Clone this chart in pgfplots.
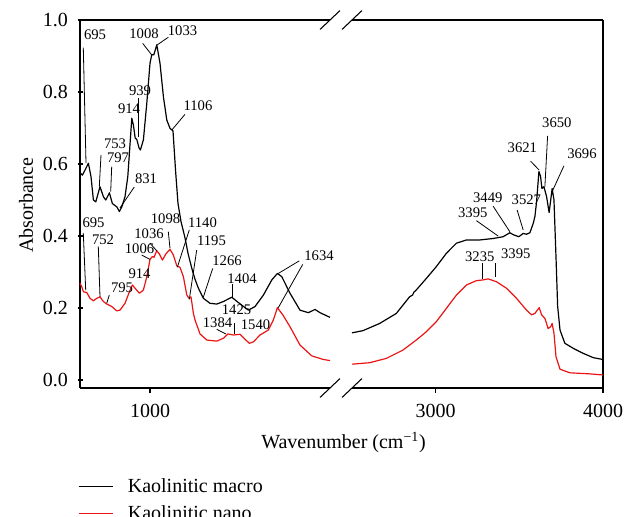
\documentclass[border=0pt]{standalone}
\usepackage{pgfplots}
\usepackage{pgfplotstable}
\pgfplotsset{compat=1.18}
\usepackage{fontspec}
\setmainfont{Liberation Serif}

% Absorbance spectra, low-wavenumber window (650--1900 cm^-1)
\pgfplotstableread{
w a
650 0.576
662 0.569
675 0.583
692 0.602
705 0.565
717 0.500
729 0.495
750 0.537
767 0.509
779 0.500
797 0.520
812 0.490
834 0.481
847 0.468
859 0.481
875 0.509
889 0.565
897 0.630
909 0.727
917 0.708
926 0.672
934 0.668
945 0.645
952 0.639
967 0.667
984 0.769
1000 0.880
1009 0.904
1019 0.903
1034 0.931
1050 0.880
1067 0.787
1084 0.722
1100 0.699
1115 0.692
1128 0.580
1140 0.490
1155 0.440
1175 0.395
1190 0.352
1209 0.310
1225 0.280
1242 0.255
1267 0.227
1300 0.213
1334 0.211
1367 0.218
1409 0.230
1442 0.215
1492 0.194
1525 0.204
1567 0.236
1609 0.278
1637 0.296
1659 0.287
1700 0.241
1750 0.194
1792 0.187
1825 0.196
1850 0.187
1900 0.174
}\macroLow

\pgfplotstableread{
w a
650 0.269
659 0.259
667 0.245
684 0.243
700 0.227
717 0.220
734 0.227
750 0.231
767 0.218
784 0.211
809 0.204
834 0.192
850 0.194
875 0.213
897 0.245
912 0.264
925 0.255
947 0.241
967 0.250
984 0.287
1000 0.335
1012 0.343
1020 0.341
1034 0.359
1047 0.350
1062 0.333
1079 0.350
1100 0.363
1117 0.347
1134 0.317
1150 0.313
1167 0.287
1184 0.236
1195 0.227
1205 0.231
1217 0.185
1225 0.167
1250 0.128
1284 0.111
1334 0.108
1367 0.116
1389 0.128
1417 0.125
1450 0.127
1475 0.113
1497 0.102
1517 0.106
1550 0.125
1592 0.139
1617 0.167
1637 0.201
1664 0.181
1700 0.148
1750 0.097
1809 0.067
1867 0.057
1900 0.054
}\nanoLow

% High-wavenumber window (2500--4000 cm^-1)
\pgfplotstableread{
w a
2500 0.131
2565 0.137
2665 0.157
2765 0.185
2844 0.231
2862 0.236
2870 0.244
2884 0.250
2944 0.282
3004 0.315
3064 0.352
3124 0.380
3184 0.389
3263 0.389
3343 0.393
3403 0.398
3443 0.409
3467 0.403
3497 0.398
3523 0.407
3543 0.405
3563 0.409
3583 0.435
3593 0.454
3603 0.495
3617 0.579
3627 0.565
3635 0.532
3647 0.537
3663 0.509
3678 0.465
3690 0.509
3696 0.532
3707 0.500
3719 0.343
3729 0.204
3743 0.139
3772 0.102
3822 0.088
3882 0.074
3942 0.062
4000 0.057
}\macroHigh

\pgfplotstableread{
w a
2500 0.044
2605 0.048
2705 0.060
2804 0.083
2884 0.111
2944 0.134
3004 0.162
3064 0.199
3124 0.236
3184 0.264
3244 0.276
3283 0.278
3313 0.281
3363 0.273
3423 0.255
3483 0.227
3543 0.194
3573 0.181
3593 0.185
3619 0.201
3633 0.181
3653 0.171
3672 0.143
3687 0.148
3696 0.157
3707 0.130
3719 0.065
3743 0.030
3802 0.020
3922 0.017
4000 0.014
}\nanoHigh

\newcommand\annfont{\fontsize{11}{13}\selectfont}
\newcommand\bigfont{\fontsize{15}{18}\selectfont}
% peak label and leader line, in axis units
\newcommand\lab[3]{\node[font=\annfont, inner sep=0pt] at (axis cs:#1,#2) {#3};}
\newcommand\ldr[4]{\draw[line width=0.6pt] (axis cs:#1,#2) -- (axis cs:#3,#4);}

\definecolor{nanored}{RGB}{235,20,20}

\pgfplotsset{
  brk/.style={
    scale only axis, height=276pt,
    ymin=-0.0222, ymax=1,
    tick style={line width=0.8pt, black},
    tick align=outside, major tick length=3.75pt,
    minor tick num=0,
    clip=false,
    ticklabel style={font=\bigfont},
    label style={font=\bigfont},
    /pgf/number format/assume math mode=true,
    scaled x ticks=false,
    xticklabel style={/pgf/number format/1000 sep={}, yshift=-5pt},
    xtick pos=left,
  },
  spec/.style={line width=0.9pt, line join=round},
}

\begin{document}
\begin{tikzpicture}
\path[use as bounding box] (0,0) rectangle (468pt,387.75pt);

\begin{axis}[brk,
  at={(60pt,96.75pt)}, anchor=south west, width=187.5pt,
  xmin=650, xmax=1900,
  axis y line=left,
  xtick={1000},
  ytick={0,0.2,0.4,0.6,0.8,1.0},
  yticklabel style={/pgf/number format/.cd, fixed, fixed zerofill, precision=1, /tikz/.cd, xshift=-3.75pt},
  xlabel={Wavenumber (cm\textsuperscript{−1})},
  xlabel style={at={(axis description cs:1.054,-0.147)}, anchor=center},
  ylabel={Absorbance},
  ylabel style={at={(axis description cs:-0.216,0.497)}, anchor=center, rotate=0},
  legend style={at={(axis description cs:-0.0093,-0.242)}, anchor=north west,
    draw=none, fill=none, inner sep=0pt, font=\bigfont, row sep=6pt,
    nodes={inner sep=1pt},
    /tikz/every odd column/.append style={column sep=10pt}},
  legend cell align=left,
  legend image code/.code={\draw[#1] (0pt,0pt) -- (25.5pt,0pt);},
  axis line style={-, line width=0.8pt},
]
\addplot[spec, black] table[x=w, y=a] {\macroLow};
\addlegendentry{Kaolinitic macro}
\addplot[spec, nanored] table[x=w, y=a] {\nanoLow};
\addlegendentry{Kaolinitic nano}

% macro sample bands
\lab{725}{0.958}{695}     \ldr{666.5}{0.923}{680}{0.603}
\lab{825}{0.656}{753}     \ldr{755}{0.625}{746.5}{0.537}
\lab{840}{0.617}{797}     \ldr{808.5}{0.593}{803.5}{0.523}
\lab{980}{0.558}{831}     \ldr{921.5}{0.536}{850}{0.478}
\lab{895}{0.753}{914}
\lab{950}{0.803}{939}     \ldr{941.5}{0.783}{941.5}{0.675}
\lab{970}{0.961}{1008}    \ldr{963.5}{0.935}{1008.5}{0.903}
\lab{1162.5}{0.971}{1033} \ldr{1091.5}{0.952}{1036.5}{0.931}
\lab{1240}{0.7625}{1106}  \ldr{1175}{0.738}{1108.5}{0.694}
% nano sample bands
\lab{717.5}{0.437}{695}   \ldr{666.5}{0.408}{678.5}{0.250}
\lab{765}{0.391}{752}     \ldr{741.5}{0.371}{750}{0.231}
\lab{860}{0.257}{795}     \ldr{796.5}{0.236}{783.5}{0.213}
\lab{947.5}{0.294}{914}
\lab{947.5}{0.365}{1006}  \ldr{958.5}{0.347}{1000}{0.335}
\lab{995}{0.407}{1036}    \ldr{1000}{0.380}{1033.5}{0.359}
\lab{1077.5}{0.447}{1098} \ldr{1091.5}{0.412}{1100}{0.366}
\lab{1262.5}{0.436}{1140} \ldr{1196.5}{0.417}{1136.5}{0.313}
\lab{1307.5}{0.386}{1195} \ldr{1233.5}{0.361}{1196.5}{0.224}
\lab{1385}{0.331}{1266}   \ldr{1313.5}{0.310}{1266.5}{0.230}
\lab{1460}{0.282}{1404}   \ldr{1413.5}{0.266}{1413.5}{0.231}
\lab{1432.5}{0.196}{1425} \ldr{1420}{0.1575}{1420}{0.128}
\lab{1337.5}{0.158}{1384} \ldr{1333.5}{0.141}{1378.5}{0.128}
\lab{1527.5}{0.153}{1540}
\lab{1845}{0.344}{1634}   \ldr{1746.5}{0.331}{1641.5}{0.296}
                          \ldr{1763.5}{0.321}{1641.5}{0.201}
\end{axis}

\begin{axis}[brk,
  at={(264pt,96.75pt)}, anchor=south west, width=188.25pt,
  xmin=2500, xmax=4000,
  axis y line=right,
  xtick={3000,4000},
  ytick=\empty,
  axis line style={-, line width=0.8pt},
]
\addplot[spec, black] table[x=w, y=a] {\macroHigh};
\addplot[spec, nanored] table[x=w, y=a] {\nanoHigh};

\lab{3221.6}{0.465}{3395} \ldr{3243.7}{0.4425}{3373}{0.400}
\lab{3311.4}{0.507}{3449} \ldr{3343.1}{0.483}{3443.1}{0.412}
\lab{3541.9}{0.501}{3527} \ldr{3486.8}{0.472}{3522.8}{0.417}
\lab{3518}{0.646}{3621}   \ldr{3567}{0.608}{3618.6}{0.583}
\lab{3724.5}{0.715}{3650} \ldr{3668.9}{0.678}{3652.7}{0.537}
\lab{3874.2}{0.629}{3696} \ldr{3766.5}{0.595}{3698.8}{0.526}
\lab{3263.5}{0.343}{3235} \ldr{3277.2}{0.324}{3277.2}{0.281}
\lab{3479}{0.350}{3395}   \ldr{3359.3}{0.324}{3359.3}{0.287}
\end{axis}

% axis-break marks
\foreach \cx in {247.5pt,264pt}{
  \foreach \cy in {96.75pt,372.75pt}{
    \draw[line width=0.8pt] (\cx-7.5pt,\cy-7.1pt) -- (\cx+7.5pt,\cy+7.1pt);
  }
}
\end{tikzpicture}
\end{document}
